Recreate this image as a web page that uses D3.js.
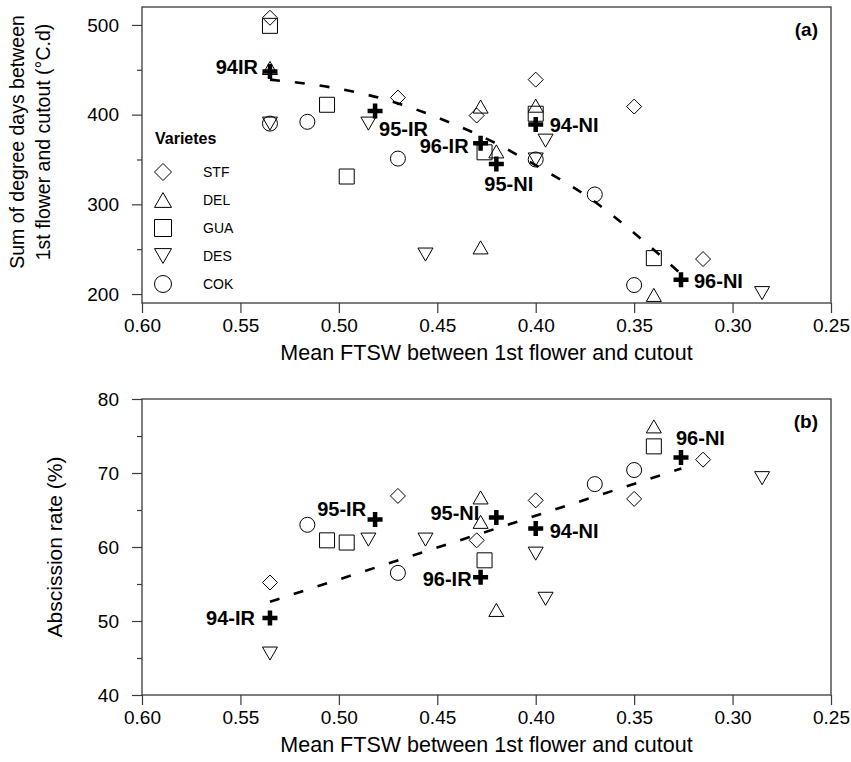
<!DOCTYPE html>
<html>
<head>
<meta charset="utf-8">
<script src="https://cdn.jsdelivr.net/npm/d3@7"></script>
<style>
  html, body { margin: 0; padding: 0; background: #fff; }
  svg { display: block; font-family: Arial, "Liberation Sans", Helvetica, sans-serif; }
</style>
</head>
<body>
<svg id="chart" width="851" height="762"></svg>
<script>
// ---------------- DATA ----------------
const varieties = ["STF", "DEL", "GUA", "DES", "COK"];

// Mean FTSW between 1st flower and cutout, per variety (6 treatments each)
const stfX = [0.535, 0.470, 0.430, 0.400, 0.350, 0.315];
const delX = [0.535, 0.428, 0.420, 0.400, 0.428, 0.340];
const guaX = [0.535, 0.506, 0.496, 0.426, 0.400, 0.340];
const desX = [0.535, 0.485, 0.456, 0.400, 0.395, 0.285];
const cokX = [0.535, 0.516, 0.470, 0.400, 0.370, 0.350];

// (a) Sum of degree days between 1st flower and cutout
const stfDegreeDays = [508, 419, 399, 439, 409, 239];
const delDegreeDays = [452, 409, 359, 410, 252, 199];
const guaDegreeDays = [499, 411, 331, 358, 401, 240];
const desDegreeDays = [390, 390, 244, 350, 371, 201];
const cokDegreeDays = [390, 392, 351, 350, 311, 210];

// (b) Abscission rate (%)
const stfAbscission = [55.2, 66.9, 60.9, 66.3, 66.5, 71.8];
const delAbscission = [null, 66.7, 51.5, null, 63.4, 76.3];
const guaAbscission = [null, 60.9, 60.6, 58.2, null, 73.6];
const desAbscission = [45.6, 61.0, 61.0, 59.1, 53.0, 69.3];
const cokAbscission = [null, 63.0, 56.5, null, 68.5, 70.4];

// Treatment means (crosses)
const meanLabelsA = ["94IR", "95-IR", "96-IR", "94-NI", "95-NI", "96-NI"];
const meanLabelsB = ["94-IR", "95-IR", "96-IR", "94-NI", "95-NI", "96-NI"];
const meanX = [0.535, 0.4816, 0.428, 0.400, 0.420, 0.3262];
const meanDegreeDays = [448, 404, 368, 389, 345, 216];
const meanAbscission = [50.4, 63.7, 55.9, 62.5, 64.0, 72.1];

// Fitted trend lines
const trendAX = [0.535, 0.503, 0.475, 0.449, 0.423, 0.398, 0.372, 0.350, 0.326];
const trendAY = [439, 430, 416, 396, 371, 341, 306, 268, 222];
const trendBX = [0.535, 0.326];
const trendBY = [52.6, 70.6];

// Tick values
const xTicks = [0.60, 0.55, 0.50, 0.45, 0.40, 0.35, 0.30, 0.25];
const yTicksA = [200, 300, 400, 500];
const yMinorA = [250, 350, 450];
const yTicksB = [40, 50, 60, 70, 80];
const yMinorB = [45, 55, 65, 75];

// ---------------- LAYOUT / STYLE ----------------
const svg = d3.select("#chart");
svg.append("rect").attr("width", 851).attr("height", 762).attr("fill", "#fff");

const frameColor = "#3a3a3a";
const L = 142, R = 831;
const panels = [
  { top: 7, bottom: 303, ydom: [190, 520], ticks: yTicksA, minor: yMinorA, tag: "(a)",
    ylab: ["Sum of degree days between", "1st flower and cutout (\u00B0C.d)"], yfs: 19.5,
    series: [stfDegreeDays, delDegreeDays, guaDegreeDays, desDegreeDays, cokDegreeDays],
    means: meanDegreeDays, labels: meanLabelsA, trendX: trendAX, trendY: trendAY, legend: true },
  { top: 399, bottom: 695, ydom: [40, 80], ticks: yTicksB, minor: yMinorB, tag: "(b)",
    ylab: ["Abscission rate (%)"], yfs: 21,
    series: [stfAbscission, delAbscission, guaAbscission, desAbscission, cokAbscission],
    means: meanAbscission, labels: meanLabelsB, trendX: trendBX, trendY: trendBY, legend: false }
];
const xsByVariety = [stfX, delX, guaX, desX, cokX];

// label placement relative to the cross: [anchor, dx, dy]
const labelPlace = [
  { "94IR": ["end", -12, 2], "95-IR": ["start", 4, 25], "96-IR": ["end", -12, 10],
    "94-NI": ["start", 14, 7], "95-NI": ["start", -12, 27], "96-NI": ["start", 13, 8] },
  { "94-IR": ["end", -15, 7], "95-IR": ["end", -9, -4], "96-IR": ["end", -9, 9],
    "94-NI": ["start", 14, 9], "95-NI": ["end", -17, 3], "96-NI": ["start", -5, -12] }
];

// custom symbol shapes; size = nominal width in px
const shapes = {
  diamond: { draw(c, s) { const h = s / 2; c.moveTo(0, -h); c.lineTo(h, 0); c.lineTo(0, h); c.lineTo(-h, 0); c.closePath(); } },
  triUp:   { draw(c, s) { const h = s / 2, v = s * 0.87 / 2; c.moveTo(0, -v); c.lineTo(h, v); c.lineTo(-h, v); c.closePath(); } },
  square:  { draw(c, s) { const h = s / 2; c.rect(-h, -h, s, s); } },
  triDown: { draw(c, s) { const h = s / 2, v = s * 0.87 / 2; c.moveTo(0, v); c.lineTo(h, -v); c.lineTo(-h, -v); c.closePath(); } },
  circle:  { draw(c, s) { const r = s / 2; c.moveTo(r, 0); c.arc(0, 0, r, 0, 2 * Math.PI); } }
};
const shapeOrder = [shapes.diamond, shapes.triUp, shapes.square, shapes.triDown, shapes.circle];

const x = d3.scaleLinear().domain([0.60, 0.25]).range([L, R]);

panels.forEach((p, pi) => {
  const y = d3.scaleLinear().domain(p.ydom).range([p.bottom, p.top]);
  const g = svg.append("g");

  // x axis
  const xa = g.append("g").attr("transform", `translate(0,${p.bottom})`)
    .call(d3.axisBottom(x).tickValues(xTicks).tickFormat(d3.format(".2f"))
      .tickSize(10).tickSizeOuter(0).tickPadding(6));
  xa.select(".domain").remove();
  xa.selectAll("line").attr("stroke", frameColor).attr("stroke-width", 1.2);
  xa.selectAll("text").attr("font-size", 19).attr("fill", "#000")
    .attr("font-family", 'Arial, "Liberation Sans", sans-serif');

  // y axis major
  const ya = g.append("g").attr("transform", `translate(${L},0)`)
    .call(d3.axisLeft(y).tickValues(p.ticks).tickFormat(d3.format("d"))
      .tickSize(10).tickSizeOuter(0).tickPadding(13));
  ya.select(".domain").remove();
  ya.selectAll("line").attr("stroke", frameColor).attr("stroke-width", 1.2);
  ya.selectAll("text").attr("font-size", 19).attr("fill", "#000")
    .attr("font-family", 'Arial, "Liberation Sans", sans-serif');
  // y axis minor
  const ym = g.append("g").attr("transform", `translate(${L},0)`)
    .call(d3.axisLeft(y).tickValues(p.minor).tickFormat("").tickSize(5).tickSizeOuter(0));
  ym.select(".domain").remove();
  ym.selectAll("line").attr("stroke", frameColor).attr("stroke-width", 1.2);

  // frame
  g.append("rect").attr("x", L).attr("y", p.top).attr("width", R - L).attr("height", p.bottom - p.top)
    .attr("fill", "none").attr("stroke", frameColor).attr("stroke-width", 1.3);

  // axis titles
  g.append("text").attr("x", (L + R) / 2).attr("y", p.bottom + 57).attr("text-anchor", "middle")
    .attr("font-size", 21.5).text("Mean FTSW between 1st flower and cutout");
  const cy = p.ylab.length === 2 ? 142 : (p.top + p.bottom) / 2;
  const baseX = p.ylab.length === 2 ? [24, 50] : [62];
  p.ylab.forEach((t, i) => {
    g.append("text").attr("transform", `translate(${baseX[i]},${cy}) rotate(-90)`)
      .attr("text-anchor", "middle").attr("font-size", p.yfs).text(t);
  });

  // panel tag
  g.append("text").attr("x", 818).attr("y", p.top + 29).attr("text-anchor", "end")
    .attr("font-size", 19).attr("font-weight", "bold").text(p.tag);

  // trend line
  const line = d3.line().x(d => x(d[0])).y(d => y(d[1])).curve(d3.curveMonotoneX);
  g.append("path").datum(d3.zip(p.trendX, p.trendY))
    .attr("d", line).attr("fill", "none").attr("stroke", "#000")
    .attr("stroke-width", 2.6).attr("stroke-dasharray", "10,15");

  // variety points
  p.series.forEach((vals, vi) => {
    const pts = d3.zip(xsByVariety[vi], vals).filter(d => d[1] != null);
    g.selectAll(null).data(pts).enter().append("path")
      .attr("transform", d => `translate(${x(d[0])},${y(d[1])})`)
      .attr("d", d3.symbol().type(shapeOrder[vi]).size(15))
      .attr("fill", "none").attr("stroke", "#000").attr("stroke-width", 1);
  });

  // means (bold crosses) + labels
  const mpts = d3.zip(meanX, p.means, p.labels);
  g.selectAll(null).data(mpts).enter().append("path")
    .attr("transform", d => `translate(${x(d[0])},${y(d[1])})`)
    .attr("d", "M-7.5,0H7.5M0,-7.5V7.5")
    .attr("stroke", "#000").attr("stroke-width", 4.5).attr("fill", "none");
  g.selectAll(null).data(mpts).enter().append("text")
    .attr("x", d => x(d[0]) + labelPlace[pi][d[2]][1])
    .attr("y", d => y(d[1]) + labelPlace[pi][d[2]][2])
    .attr("text-anchor", d => labelPlace[pi][d[2]][0])
    .attr("font-size", 20).attr("font-weight", "bold").text(d => d[2]);

  // legend
  if (p.legend) {
    g.append("text").attr("x", 155).attr("y", 144).attr("font-size", 16)
      .attr("font-weight", "bold").text("Varietes");
    const rowY = d3.scalePoint().domain(varieties).range([172, 284]);
    varieties.forEach((v, vi) => {
      g.append("path").attr("transform", `translate(163,${rowY(v)})`)
        .attr("d", d3.symbol().type(shapeOrder[vi]).size(17))
        .attr("fill", "none").attr("stroke", "#000").attr("stroke-width", 1);
      g.append("text").attr("x", 203).attr("y", rowY(v) + 5).attr("font-size", 14).text(v);
    });
  }
});
</script>
</body>
</html>
